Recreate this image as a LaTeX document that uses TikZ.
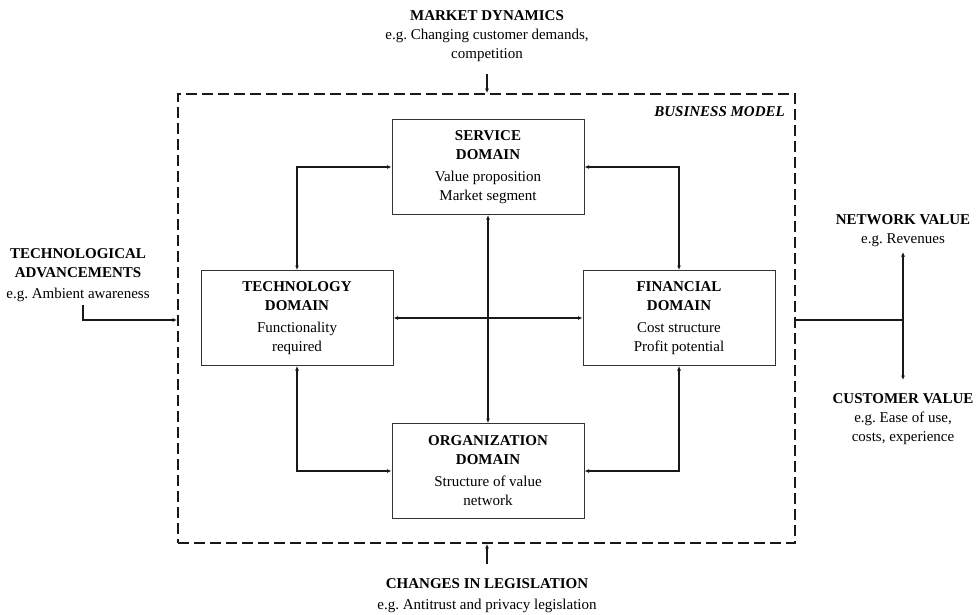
\documentclass[tikz,border=0pt]{standalone}
\usepackage{fontspec}
\setmainfont{Liberation Serif}
\usetikzlibrary{arrows.meta}
\begin{document}
\frenchspacing
\begin{tikzpicture}[x=1pt,y=-1pt,
  txt/.style={align=center,inner sep=0pt,font=\fontsize{15}{19}\selectfont},
  domainbox/.style={draw=black!80,line width=1pt,minimum width=192pt,minimum height=95pt,
    align=center,inner sep=0pt,font=\fontsize{15}{19}\selectfont},
  conn/.style={line width=1.9pt,draw=black!90,{Latex[length=4.5pt,width=4pt]}-{Latex[length=4.5pt,width=4pt]}},
  inarrow/.style={line width=1.9pt,draw=black!90,-{Latex[length=4.5pt,width=4pt]}},
  plain/.style={line width=1.9pt,draw=black!90},
  frame/.style={draw=black!90,line width=1.9pt,dash pattern=on 11pt off 5pt,minimum width=617pt,minimum height=449pt}]
\useasboundingbox (0,0) rectangle (979,615);

% business model frame and its label
\node[frame] (bm) at (486.5,318.5) {};
\node[txt,anchor=north east,font=\fontsize{15}{19}\selectfont\bfseries\itshape] (bml) at (785,106) {BUSINESS MODEL};

% the four domains
\node[domainbox] (serv) at (488,167) {\textbf{SERVICE}\\\textbf{DOMAIN}\\[3pt]Value proposition\\Market segment};
\node[domainbox] (tech) at (297,318) {\textbf{TECHNOLOGY}\\\textbf{DOMAIN}\\[3pt]Functionality\\required};
\node[domainbox] (fin) at (679,318) {\textbf{FINANCIAL}\\\textbf{DOMAIN}\\[3pt]Cost structure\\Profit potential};
\node[domainbox] (org) at (488,471) {\textbf{ORGANIZATION}\\\textbf{DOMAIN}\\[3pt]Structure of value\\network};

% links between domains
\draw[conn] (tech.north) |- (serv.west);
\draw[conn] (fin.north) |- (serv.east);
\draw[conn] (tech.south) |- (org.west);
\draw[conn] (fin.south) |- (org.east);
\draw[conn] (serv.south) -- (org.north);
\draw[conn] (tech.east) -- (fin.west);

% the outcome branch point, right of the frame
\coordinate (split) at (903,320);

% outside influences
\node[txt] (md) at (487,36) {\textbf{MARKET DYNAMICS}\\e.g. Changing customer demands,\\competition};
\coordinate (mdin) at (487,74);
\draw[inarrow] (mdin) -- (mdin |- bm.north);

\node[txt] (ta) at (78,275) {\textbf{TECHNOLOGICAL}\\\textbf{ADVANCEMENTS}\\[2pt]e.g. Ambient awareness};
\coordinate (tain) at (83,305);
\draw[inarrow] (tain) |- (bm.west |- split);

\node[txt] (lg) at (487,596) {\textbf{CHANGES IN LEGISLATION}\\[2pt]e.g. Antitrust and privacy legislation};
\coordinate (lgin) at (487,564);
\draw[inarrow] (lgin) -- (lgin |- bm.south);

% outcomes
\coordinate (nvtip) at (903,252);
\coordinate (cvtip) at (903,380);
\draw[plain] (split -| bm.east) -- (split);
\draw[conn] (nvtip) -- (cvtip);
\node[txt] (nv) at (903,231) {\textbf{NETWORK VALUE}\\e.g. Revenues};
\node[txt] (cv) at (903,419) {\textbf{CUSTOMER VALUE}\\e.g. Ease of use,\\costs, experience};
\end{tikzpicture}
\end{document}
